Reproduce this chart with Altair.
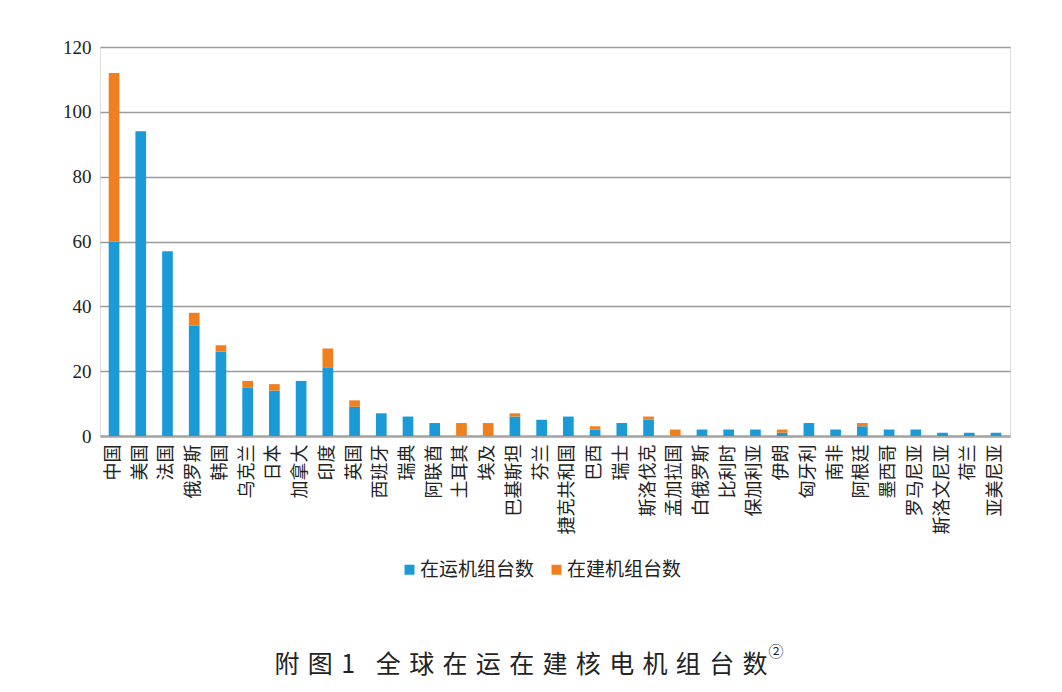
import altair as alt
import pandas as pd

countries = ["中国", "美国", "法国", "俄罗斯", "韩国", "乌克兰", "日本", "加拿大", "印度", "英国",
             "西班牙", "瑞典", "阿联酋", "土耳其", "埃及", "巴基斯坦", "芬兰", "捷克共和国", "巴西", "瑞士",
             "斯洛伐克", "孟加拉国", "白俄罗斯", "比利时", "保加利亚", "伊朗", "匈牙利", "南非", "阿根廷",
             "墨西哥", "罗马尼亚", "斯洛文尼亚", "荷兰", "亚美尼亚"]
operating = [60, 94, 57, 34, 26, 15, 14, 17, 21, 9,
             7, 6, 4, 0, 0, 6, 5, 6, 2, 4,
             5, 0, 2, 2, 2, 1, 4, 2, 3,
             2, 2, 1, 1, 1]
construction = [52, 0, 0, 4, 2, 2, 2, 0, 6, 2,
                0, 0, 0, 4, 4, 1, 0, 0, 1, 0,
                1, 2, 0, 0, 0, 1, 0, 0, 1,
                0, 0, 0, 0, 0]
types = ["在运机组台数", "在建机组台数"]
colors = ["#1a9ad6", "#f0801f"]

title_chars = ["附", "图", "1", "\u2002全", "球", "在", "运", "在", "建", "核", "电", "机", "组", "台", "数"]
title_text = "\u2004".join(title_chars)

rows = []
for c, o, b in zip(countries, operating, construction):
    rows.append({"国家": c, "类型": types[0], "台数": o, "k": 0})
    rows.append({"国家": c, "类型": types[1], "台数": b, "k": 1})
df = pd.DataFrame(rows)

bars = alt.Chart(df).mark_bar().encode(
    x=alt.X("国家:N", sort=countries,
            scale=alt.Scale(paddingInner=0.6, paddingOuter=0.325),
            axis=alt.Axis(title=None, labelAngle=-90, labelFont="Noto Sans CJK SC",
                          labelFontSize=18, labelColor="#222222", labelPadding=8,
                          ticks=False, domainColor="#a6a6a6", domainWidth=2.5,
                          grid=False, labelOverlap=False)),
    y=alt.Y("台数:Q", stack="zero", scale=alt.Scale(domain=[0, 120], nice=False),
            axis=alt.Axis(title=None, values=[0, 20, 40, 60, 80, 100, 120], domain=False,
                          ticks=False, labelFont="Liberation Serif", labelFontSize=19,
                          labelColor="#222222", labelPadding=9,
                          gridColor="#9a9a9a", gridWidth=1.5)),
    color=alt.Color("类型:N", scale=alt.Scale(domain=types, range=colors),
                    legend=alt.Legend(title=None, orient="none", direction="horizontal",
                                      legendX=300, legendY=513, symbolType="square",
                                      symbolSize=100, symbolStrokeWidth=0,
                                      labelFont="Noto Sans CJK SC", labelFontSize=19,
                                      labelColor="#222222", labelOffset=1,
                                      columnPadding=12, padding=0)),
    order=alt.Order("k:Q"),
)

title = alt.Chart(pd.DataFrame({"t": [title_text]})).mark_text(
    font="Noto Sans CJK SC", fontSize=25, color="#222222", align="center", baseline="middle"
).encode(x=alt.value(421), y=alt.value(618), text="t:N")

sup = alt.Chart(pd.DataFrame({"t": ["②"]})).mark_text(
    font="Noto Sans CJK SC", fontSize=15, color="#222222", align="center", baseline="middle"
).encode(x=alt.value(676), y=alt.value(605), text="t:N")

chart = alt.layer(bars, title, sup).properties(
    width=910, height=389,
    autosize=alt.AutoSizeParams(type="none"),
    padding={"left": 92, "top": 39, "right": 40, "bottom": 246},
).configure_view(stroke=None).configure(background="white")

chart.save("out.html", embed_options={"renderer": "svg", "actions": False})
